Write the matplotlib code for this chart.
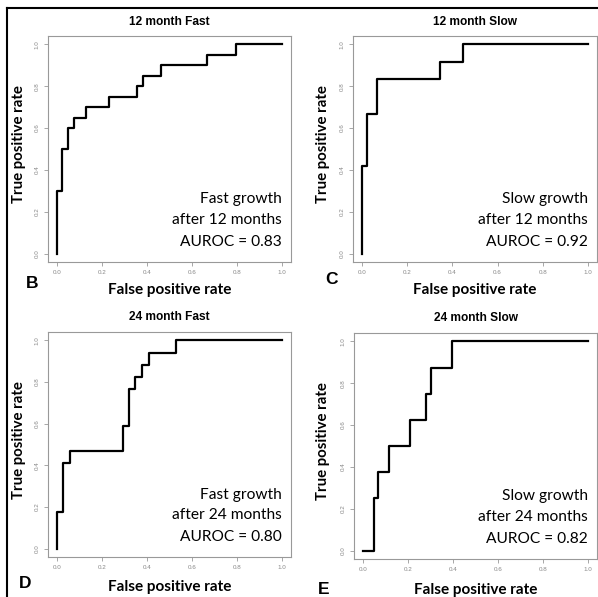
import numpy as np
import matplotlib.pyplot as plt
from matplotlib.lines import Line2D

# ROC points (FPR, TPR), drawn as a staircase
fast12_fpr = [0, 0, 0.024, 0.049, 0.074, 0.128, 0.232, 0.357, 0.383, 0.464, 0.666, 0.795, 1.0]
fast12_tpr = [0, 0.30, 0.50, 0.60, 0.65, 0.70, 0.75, 0.80, 0.85, 0.90, 0.95, 1.0, 1.0]

slow12_fpr = [0, 0, 0.022, 0.066, 0.343, 0.448, 1.0]
slow12_tpr = [0, 0.417, 0.667, 0.833, 0.917, 1.0, 1.0]

fast24_fpr = [0, 0, 0.027, 0.058, 0.294, 0.319, 0.348, 0.379, 0.409, 0.527, 1.0]
fast24_tpr = [0, 0.176, 0.412, 0.471, 0.588, 0.765, 0.824, 0.882, 0.941, 1.0, 1.0]

slow24_fpr = [0, 0.047, 0.067, 0.114, 0.209, 0.280, 0.301, 0.396, 1.0]
slow24_tpr = [0, 0.25, 0.375, 0.5, 0.625, 0.75, 0.875, 1.0, 1.0]

titles = ['12 month Fast', '12 month Slow', '24 month Fast', '24 month Slow']
letters = ['B', 'C', 'D', 'E']
notes = [['Fast growth', 'after 12 months', 'AUROC = 0.83'],
         ['Slow growth', 'after 12 months', 'AUROC = 0.92'],
         ['Fast growth', 'after 24 months', 'AUROC = 0.80'],
         ['Slow growth', 'after 24 months', 'AUROC = 0.82']]
curves = [(fast12_fpr, fast12_tpr), (slow12_fpr, slow12_tpr),
          (fast24_fpr, fast24_tpr), (slow24_fpr, slow24_tpr)]
ticks = [0.0, 0.2, 0.4, 0.6, 0.8, 1.0]

W, H = 598, 597
fig = plt.figure(figsize=(W / 100, H / 100), dpi=100)

# pixel boxes of each plot region: left, right, top, bottom
boxes = [(48, 291, 36, 262), (353, 597, 36, 262),
         (48, 291, 332, 557), (354, 597, 333, 559)]
# pixel positions of text: title y, ylabel x, xlabel y, letter (x, y)
title_y = [22, 22, 317, 318]
ylab_x = [19, 323, 19, 323]
xlab_y = [290, 290, 587, 590]
letter_xy = [(32, 283), (331, 280), (25, 584), (324, 590)]

label_font = 'Lato'
gray = '#999999'

for i in range(4):
    l, r, t, b = boxes[i]
    ax = fig.add_axes([l / W, 1 - b / H, (r - l) / W, (b - t) / H])
    fpr, tpr = curves[i]
    ax.plot(fpr, tpr, drawstyle='steps-post', color='black', lw=1.6)
    ax.set_xlim(-0.04, 1.04)
    ax.set_ylim(-0.04, 1.04)
    ax.set_xticks(ticks)
    ax.set_yticks(ticks)
    ax.set_xticklabels([f'{v:.1f}' for v in ticks], fontsize=4.5, color='#888888',
                       family='Liberation Sans')
    ax.set_yticklabels([f'{v:.1f}' for v in ticks], fontsize=4.5, color='#888888',
                       family='Liberation Sans', rotation=90, va='center')
    ax.tick_params(length=3, width=0.6, color=gray, pad=3)
    for s in ax.spines.values():
        s.set_color(gray)
        s.set_linewidth(0.8)

    # annotation block
    ys = [0.26, 0.16, 0.055]
    for j in range(3):
        ax.text(1.0, ys[j], notes[i][j], ha='right', va='center', fontsize=11.2,
                family=label_font)

    cx = (l + r) / 2 / W
    fig.text(cx, 1 - title_y[i] / H, titles[i], ha='center', va='center',
             fontsize=8.6, fontweight='bold', family='Liberation Sans')
    fig.text(ylab_x[i] / W, 1 - (t + b) / 2 / H + 0.008, 'True positive rate',
             rotation=90, ha='center', va='center', fontsize=10.8, fontweight='bold',
             family=label_font)
    fig.text(cx, 1 - xlab_y[i] / H, 'False positive rate', ha='center', va='center',
             fontsize=11, fontweight='bold', family=label_font)
    fig.text(letter_xy[i][0] / W, 1 - letter_xy[i][1] / H, letters[i], ha='center',
             va='center', fontsize=12.5, fontweight='bold', family='Liberation Sans')

# outer frame (left and top edges)
fig.add_artist(Line2D([7 / W, 7 / W], [0, 1 - 8 / H], color='black', lw=1.5))
fig.add_artist(Line2D([7 / W, 1], [1 - 8 / H, 1 - 8 / H], color='black', lw=1.5))

plt.savefig('out.png', dpi=100)
